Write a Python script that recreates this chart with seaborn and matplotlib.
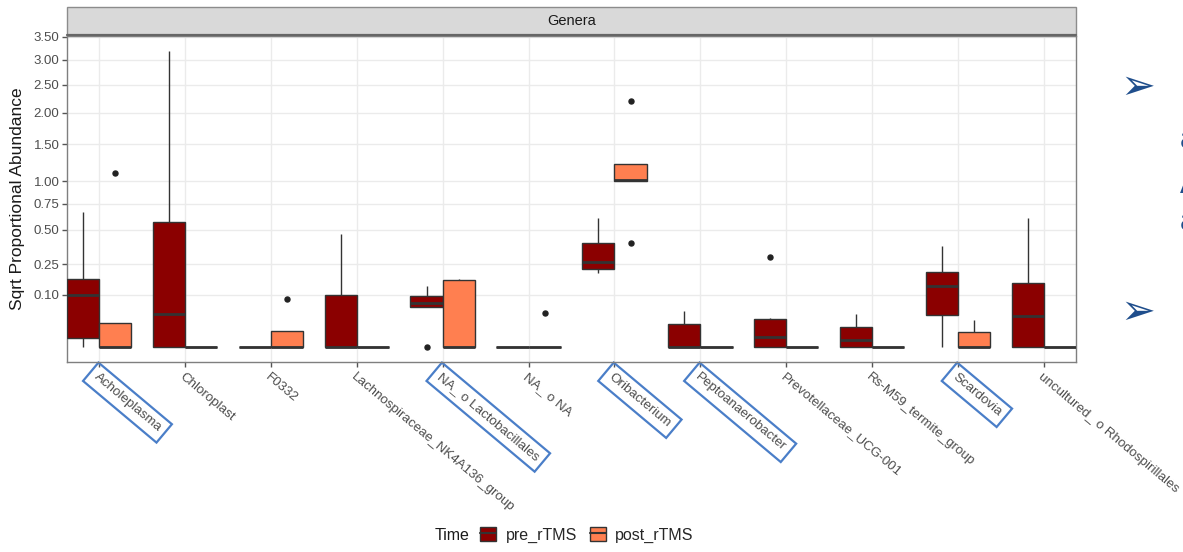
import numpy as np
import pandas as pd
import matplotlib
matplotlib.use("Agg")
import matplotlib.pyplot as plt
import seaborn as sns
from matplotlib.patches import Rectangle, Patch
from matplotlib.lines import Line2D

# ---------------- data (values in axis units) ----------------
genera = ["Acholeplasma", "Chloroplast", "F0332", "Lachnospiraceae_NK4A136_group",
          "NA_ o Lactobacillales", "NA_ o NA", "Oribacterium", "Peptoanaerobacter",
          "Prevotellaceae_UCG-001", "Rs-M59_termite_group", "Scardovia",
          "uncultured_ o Rhodospirillales"]
times = ["pre_rTMS", "post_rTMS"]
highlighted = ["Acholeplasma", "NA_ o Lactobacillales", "Oribacterium",
               "Peptoanaerobacter", "Scardovia"]

pre_rtms = [
    [0, 0.002, 0.003, 0.05, 0.098, 0.13, 0.170, 0.30, 0.66],
    [0, 0, 0, 0.01, 0.039, 0.20, 0.571, 1.2, 3.19],
    [0, 0, 0, 0, 0, 0, 0, 0, 0],
    [0, 0, 0, 0, 0, 0.05, 0.101, 0.2, 0.467],
    [0, 0.0575, 0.0575, 0.065, 0.0706, 0.085, 0.095, 0.12, 0.138],
    [0, 0, 0, 0, 0, 0, 0, 0, 0],
    [0.20, 0.21, 0.223, 0.24, 0.264, 0.30, 0.391, 0.50, 0.61],
    [0, 0, 0, 0, 0, 0.01, 0.019, 0.03, 0.0474],
    [0, 0, 0, 0.001, 0.0038, 0.015, 0.0282, 0.0317, 0.296],
    [0, 0, 0, 0.001, 0.0019, 0.008, 0.0148, 0.03, 0.041],
    [0, 0.02, 0.0385, 0.08, 0.138, 0.17, 0.206, 0.30, 0.374],
    [0, 0, 0, 0.01, 0.0352, 0.10, 0.149, 0.30, 0.61],
]
post_rtms = [
    [0, 0, 0, 0, 0, 0.01, 0.022, 0.022, 1.10],
    [0, 0, 0, 0, 0, 0, 0, 0, 0],
    [0, 0, 0, 0, 0, 0.005, 0.0092, 0.0092, 0.083],
    [0, 0, 0, 0, 0, 0, 0, 0, 0],
    [0, 0, 0, 0, 0, 0.10, 0.166, 0.166, 0.168],
    [0, 0, 0, 0, 0, 0, 0, 0, 0.0415],
    [0.398, 1.006, 1.006, 1.01, 1.015, 1.10, 1.226, 1.226, 2.205],
    [0, 0, 0, 0, 0, 0, 0, 0, 0],
    [0, 0, 0, 0, 0, 0, 0, 0, 0],
    [0, 0, 0, 0, 0, 0, 0, 0, 0],
    [0, 0, 0, 0, 0, 0.004, 0.0084, 0.015, 0.0268],
    [0, 0, 0, 0, 0, 0, 0, 0, 0],
]
y_ticks = [0.10, 0.25, 0.50, 0.75, 1.00, 1.50, 2.00, 2.50, 3.00, 3.50]
colors = {"pre_rTMS": "#8B0000", "post_rTMS": "#FF7F50"}

rows = []
for g, pre, post in zip(genera, pre_rtms, post_rtms):
    for v in pre:
        rows.append((g, "pre_rTMS", v))
    for v in post:
        rows.append((g, "post_rTMS", v))
df = pd.DataFrame(rows, columns=["Genus", "Time", "Abundance"])
df["sqrt_y"] = np.sqrt(df["Abundance"])  # sqrt-transformed scale (like scale_y_sqrt)

# ---------------- figure ----------------
sns.set_theme(style="white")
plt.rcParams["font.family"] = ["Liberation Sans", "DejaVu Sans"]

W, H = 1183, 552
fig = plt.figure(figsize=(W / 100, H / 100), dpi=100)
ax = fig.add_axes([67 / W, 1 - 362 / H, (1076 - 67) / W, (362 - 36) / H])

sns.boxplot(data=df, x="Genus", y="sqrt_y", hue="Time", order=genera,
            hue_order=times, palette=colors, width=0.75, gap=0, saturation=1,
            linewidth=1.0, linecolor="#333333", whis=1.5, showcaps=False,
            fliersize=3.6,
            flierprops=dict(marker="o", markerfacecolor="#222222",
                            markeredgecolor="#222222"),
            medianprops=dict(linewidth=2.0, color="#333333"),
            legend=False, ax=ax, zorder=3)

ax.set_xlim(-0.375, len(genera) - 1 + 0.375)
ax.set_ylim(-0.089, 1.876)
ax.set_yticks(np.sqrt(y_ticks))
ax.set_yticklabels([f"{t:.2f}" for t in y_ticks])
ax.set_xticks(range(len(genera)))
ax.set_xticklabels(genera)

ax.grid(True, color="#EBEBEB", linewidth=1.0, zorder=0)
ax.set_axisbelow(True)
for s in ax.spines.values():
    s.set_color("#7F7F7F")
    s.set_linewidth(1.0)

ax.tick_params(axis="both", which="major", length=3.5, width=1.0, color="#555555",
               labelcolor="#4D4D4D", bottom=True, left=True)
ax.tick_params(axis="y", labelsize=9.5, pad=2)
ax.tick_params(axis="x", labelsize=9.6, pad=3)
for lab in ax.get_xticklabels():
    lab.set_rotation(-40)
    lab.set_ha("left")
    lab.set_va("top")
    lab.set_rotation_mode("anchor")
    if lab.get_text() in highlighted:
        lab.set_bbox(dict(boxstyle="square,pad=0.45", fc="none",
                          ec="#4A7EC8", lw=1.6))

ax.set_xlabel("")
ax.set_ylabel("Sqrt Proportional Abundance", fontsize=12.5, color="#1A1A1A")
ax.yaxis.set_label_coords((25 - 67) / (1076 - 67), 0.5)

# facet strip
fig.add_artist(Rectangle((67 / W, 1 - 35 / H), (1076 - 67) / W, 28 / H,
                         transform=fig.transFigure, facecolor="#D9D9D9",
                         edgecolor="#8C8C8C", linewidth=1.0))
fig.add_artist(Line2D([67 / W, 1076 / W], [1 - 35 / H, 1 - 35 / H],
                      transform=fig.transFigure, color="#666666", linewidth=1.6))
fig.text((67 + 1076) / 2 / W, 1 - 21 / H, "Genera", ha="center", va="center",
         fontsize=10.5, color="#1A1A1A")

# legend
fig.text(435 / W, 1 - 535 / H, "Time", ha="left", va="center", fontsize=11.5,
         color="#1A1A1A")
handles = [(Patch(facecolor=colors[t], edgecolor="#333333", linewidth=1.0),
            Line2D([], [], color="#333333", linewidth=1.5)) for t in times]
fig.legend(handles, times, loc="center left",
           bbox_to_anchor=(480 / W, 1 - 535 / H), ncol=2, frameon=False,
           fontsize=11.5, handlelength=1.0, handleheight=1.0, handletextpad=0.6,
           columnspacing=0.8, borderaxespad=0, borderpad=0)

# slide fragments on the right
for yy in (87, 312):
    fig.text(1120 / W, 1 - yy / H, "\u27a2", ha="left", va="center", fontsize=30,
             color="#1F4E8C", family=["DejaVu Sans"])
for yy, ch, col in [(87, "I", "#C9D2E3"), (140, "a", "#1F4E8C"),
                    (185, "A", "#1F4E8C"), (222, "a", "#1F4E8C"),
                    (312, "I", "#C9D2E3")]:
    fig.text(1180 / W, 1 - yy / H, ch, ha="left", va="center", fontsize=22,
             color=col)

fig.savefig("out.png", dpi=100)
